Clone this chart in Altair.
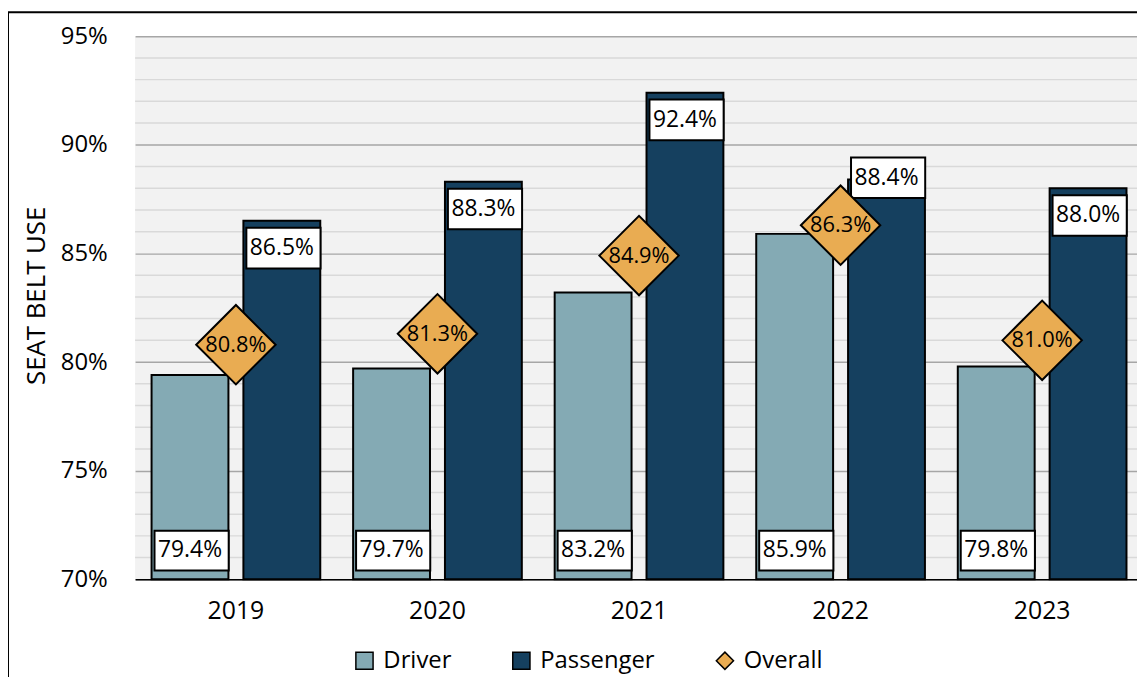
import altair as alt
import pandas as pd

years = ["2019", "2020", "2021", "2022", "2023"]
driver = [79.4, 79.7, 83.2, 85.9, 79.8]
passenger = [86.5, 88.3, 92.4, 88.4, 88.0]
overall = [80.8, 81.3, 84.9, 86.3, 81.0]

series = ["Driver", "Passenger", "Overall"]
colors = ["#84AAB4", "#15405F", "#E9AC52"]
outline = ["black", "black", "black"]
shapes = ["square", "square", "diamond"]

major_ticks = [70, 75, 80, 85, 90, 95]
minor_ticks = [v for v in range(71, 95) if v % 5 != 0]

FONT = "Open Sans"

bars_df = pd.DataFrame({
    "year": years * 2,
    "series": ["Driver"] * len(years) + ["Passenger"] * len(years),
    "value": driver + passenger,
})
over_df = pd.DataFrame({"year": years, "series": ["Overall"] * len(years), "value": overall})
minor_df = pd.DataFrame({"tick": minor_ticks})

legend = alt.Legend(
    orient="none", legendX=219, legendY=617, direction="horizontal", title=None,
    labelFontSize=24, labelFont=FONT, labelColor="black", symbolSize=300,
    symbolStrokeColor="black", symbolStrokeWidth=1.5, columnPadding=58, labelOffset=7,
    padding=0, symbolOpacity=1,
)
color_scale = alt.Scale(domain=series, range=colors)
stroke_scale = alt.Scale(domain=series, range=outline)
shape_scale = alt.Scale(domain=series, range=shapes)

y_scale = alt.Scale(domain=[70, 95], nice=False, zero=False)
x_enc = alt.X(
    "year:N",
    scale=alt.Scale(paddingInner=0.163, paddingOuter=0.0817, range=[0, 1015]),
    axis=alt.Axis(title=None, labelAngle=0, ticks=False, domain=True, domainColor="black",
                  domainWidth=1.5, labelFontSize=25, labelFont=FONT, labelColor="black",
                  labelPadding=19, grid=False),
)
xoff_enc = alt.XOffset("series:N", scale=alt.Scale(domain=["Driver", "Passenger"], paddingInner=0.163))
y_axis = alt.Axis(
    values=major_ticks, labelExpr="datum.value + '%'", ticks=False, domain=False,
    grid=True, gridColor="#A6A6A6", gridWidth=1.5, labelFontSize=24, labelFont=FONT,
    labelColor="black", labelPadding=28, title="SEAT BELT USE", titleFontSize=26,
    titleFont=FONT, titleFontWeight="normal", titleColor="black", titleX=-99, titleY=261,
    titleAngle=270, titleAlign="center", titleBaseline="middle",
)

frame = alt.Chart(alt.Data(values=[{}])).mark_rect(
    filled=False, stroke="black", strokeWidth=2
).encode(
    x=alt.value(-128), x2=alt.value(1100), y=alt.value(-24), y2=alt.value(720)
)

minor = alt.Chart(minor_df).mark_rule(color="#D9D9D9", strokeWidth=1.5).encode(
    y=alt.Y("tick:Q", scale=y_scale, axis=y_axis)
)

bars = alt.Chart(bars_df).mark_bar(strokeWidth=2).encode(
    x=x_enc,
    xOffset=xoff_enc,
    y=alt.Y("value:Q", scale=y_scale, axis=y_axis),
    y2=alt.datum(70),
    color=alt.Color("series:N", scale=color_scale, legend=legend),
    stroke=alt.Stroke("series:N", scale=stroke_scale, legend=legend),
)

labeled = alt.Chart(bars_df).transform_calculate(
    top="datum.series == 'Driver' ? 72.24 : (datum.year == '2022' ? datum.value + 1.02 : datum.value - 0.32)",
).transform_calculate(
    bot="datum.series == 'Driver' ? 70.41 : datum.top - 1.87",
).transform_calculate(
    mid="(datum.top + datum.bot) / 2",
    label="format(datum.value, '.1f') + '%'",
)

boxes = labeled.mark_bar(fill="white", stroke="black", strokeWidth=2,
                         width=alt.RelativeBandSize(0.965)).encode(
    x=x_enc, xOffset=xoff_enc,
    y=alt.Y("top:Q", scale=y_scale), y2="bot:Q",
)
box_text = labeled.mark_text(fontSize=23, font=FONT, color="black").encode(
    x=x_enc, xOffset=xoff_enc,
    y=alt.Y("mid:Q", scale=y_scale),
    text="label:N",
)

diamonds = alt.Chart(over_df).mark_point(
    shape="diamond", size=6400, filled=True, strokeWidth=2, opacity=1
).encode(
    x=x_enc,
    y=alt.Y("value:Q", scale=y_scale),
    color=alt.Color("series:N", scale=color_scale, legend=legend),
    stroke=alt.Stroke("series:N", scale=stroke_scale, legend=legend),
    shape=alt.Shape("series:N", scale=shape_scale, legend=legend),
)
diamond_text = alt.Chart(over_df).transform_calculate(
    label="format(datum.value, '.1f') + '%'"
).mark_text(fontSize=22, font=FONT, color="black").encode(
    x=x_enc,
    y=alt.Y("value:Q", scale=y_scale),
    text="label:N",
)

chart = alt.layer(
    minor, bars, boxes, box_text, diamonds, diamond_text, frame
).properties(
    width=1009, height=547,
    padding={"left": 128, "top": 26, "right": 0, "bottom": 96},
    autosize=alt.AutoSizeParams(type="none"),
    background="white",
).configure_view(
    fill="#F2F2F2", stroke=None
)

chart.save("out.html", embed_options={"renderer": "svg", "actions": False})
